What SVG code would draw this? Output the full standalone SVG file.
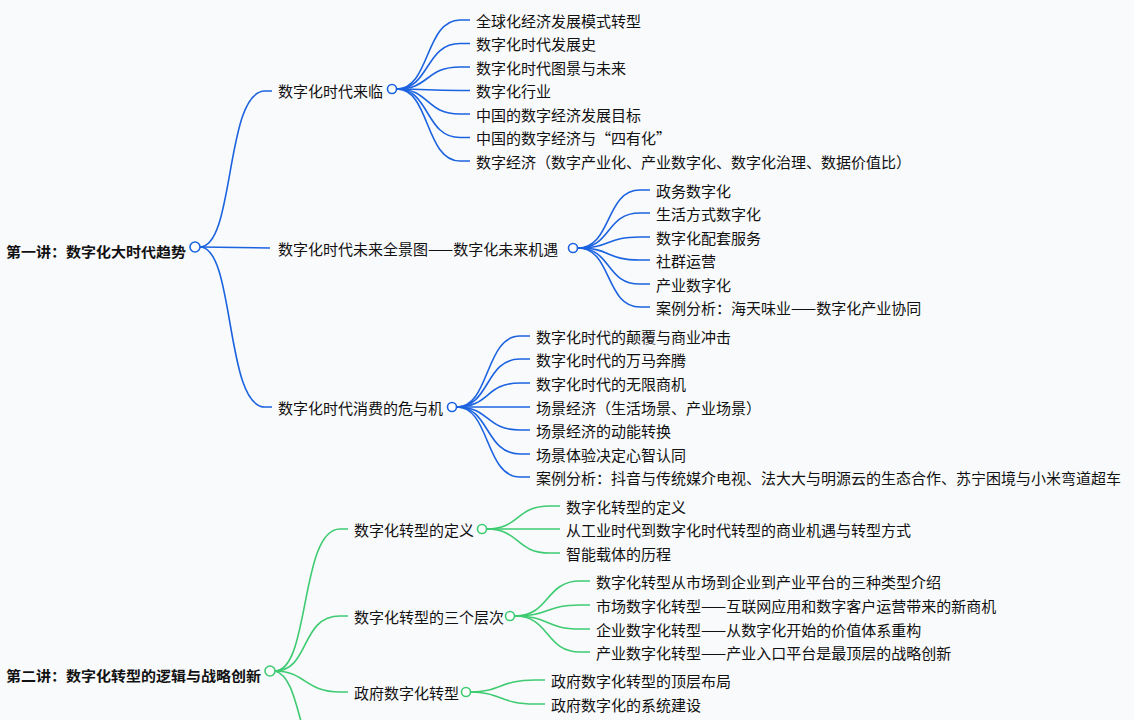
<svg xmlns="http://www.w3.org/2000/svg" width="1134" height="720" viewBox="0 0 1134 720">
<style>
text{font-family:"Noto Sans CJK SC","Noto Sans",sans-serif;font-size:15px;fill:#111;dominant-baseline:central}
.root{font-weight:bold;font-size:14px}
.b path{fill:none;stroke:#1c63e0;stroke-width:1.6}
.g path{fill:none;stroke:#3ecb72;stroke-width:1.6}
circle{fill:#fff;stroke-width:1.6}
.bc{stroke:#1c63e0}.gc{stroke:#3ecb72}
</style>
<rect width="1134" height="720" fill="#f9fafc"/>
<g id="connectors">
<g class="b">
<path d="M200,247 C235,247 225,91 265,91 L272,91"/>
<path d="M200,247 L270,248"/>
<path d="M200,247 C235,247 225,407 265,407 L272,407"/>
<path d="M397,89 C430,89 425,20 460,20 L470,20"/>
<path d="M397,89 C430,89 425,43.5 460,43.5 L470,43.5"/>
<path d="M397,89 C430,89 425,67 460,67 L470,67"/>
<path d="M397,89 C430,89 425,90.5 460,90.5 L470,90.5"/>
<path d="M397,89 C430,89 425,114 460,114 L470,114"/>
<path d="M397,89 C430,89 425,137.5 460,137.5 L470,137.5"/>
<path d="M397,89 C430,89 425,161 460,161 L470,161"/>
<path d="M578,248 C612,248 605,190 640,190 L650,190"/>
<path d="M578,248 C612,248 605,213 640,213 L650,213"/>
<path d="M578,248 C612,248 605,237 640,237 L650,237"/>
<path d="M578,248 C612,248 605,260 640,260 L650,260"/>
<path d="M578,248 C612,248 605,284 640,284 L650,284"/>
<path d="M578,248 C612,248 605,307 640,307 L650,307"/>
<path d="M457,407 C490,407 485,336 520,336 L530,336"/>
<path d="M457,407 C490,407 485,359 520,359 L530,359"/>
<path d="M457,407 C490,407 485,383 520,383 L530,383"/>
<path d="M457,407 C490,407 485,407 520,407 L530,407"/>
<path d="M457,407 C490,407 485,430 520,430 L530,430"/>
<path d="M457,407 C490,407 485,454 520,454 L530,454"/>
<path d="M457,407 C490,407 485,477 520,477 L530,477"/>
</g>
<g class="g">
<path d="M275,671 C310,671 300,529 340,529 L348,529"/>
<path d="M275,671 C310,671 300,616 340,616 L348,616"/>
<path d="M275,671 C305,671 305,692 340,692 L348,692"/>
<path d="M275,671 C290,675 295,700 302,725"/>
<path d="M487,529 C520,529 515,506 550,506 L560,506"/>
<path d="M487,529 L560,529"/>
<path d="M487,529 C520,529 515,553 550,553 L560,553"/>
<path d="M515,616 C550,616 545,581 580,581 L590,581"/>
<path d="M515,616 C550,616 545,605 580,605 L590,605"/>
<path d="M515,616 C550,616 545,629 580,629 L590,629"/>
<path d="M515,616 C550,616 545,652 580,652 L590,652"/>
<path d="M471,692 C500,692 500,680 535,680 L545,680"/>
<path d="M471,692 C500,692 500,704 535,704 L545,704"/>
</g>
</g>
<g id="root1"><text class="root" x="6" y="251" textLength="180" lengthAdjust="spacingAndGlyphs">第一讲：数字化大时代趋势</text><circle class="bc" cx="195" cy="247" r="5"/></g>
<g id="n1"><text x="278" y="90">数字化时代来临</text><circle class="bc" cx="392" cy="89" r="4.5"/></g>
<g id="n1c"><text x="476" y="20">全球化经济发展模式转型</text><text x="476" y="43.5">数字化时代发展史</text><text x="476" y="67">数字化时代图景与未来</text><text x="476" y="90.5">数字化行业</text><text x="476" y="114">中国的数字经济发展目标</text><text x="476" y="137.5">中国的数字经济与“四有化”</text><text x="476" y="161">数字经济（数字产业化、产业数字化、数字化治理、数据价值比）</text></g>
<g id="n2"><text x="278" y="248">数字化时代未来全景图——数字化未来机遇</text><circle class="bc" cx="573" cy="248" r="4.5"/></g>
<g id="n2c"><text x="656" y="190">政务数字化</text><text x="656" y="213">生活方式数字化</text><text x="656" y="237">数字化配套服务</text><text x="656" y="260">社群运营</text><text x="656" y="284">产业数字化</text><text x="656" y="307">案例分析：海天味业——数字化产业协同</text></g>
<g id="n3"><text x="278" y="407">数字化时代消费的危与机</text><circle class="bc" cx="452" cy="407" r="4.5"/></g>
<g id="n3c"><text x="536" y="336">数字化时代的颠覆与商业冲击</text><text x="536" y="359">数字化时代的万马奔腾</text><text x="536" y="383">数字化时代的无限商机</text><text x="536" y="407">场景经济（生活场景、产业场景）</text><text x="536" y="430">场景经济的动能转换</text><text x="536" y="454">场景体验决定心智认同</text><text x="536" y="477">案例分析：抖音与传统媒介电视、法大大与明源云的生态合作、苏宁困境与小米弯道超车</text></g>
<g id="root2"><text class="root" x="6" y="675" textLength="255" lengthAdjust="spacingAndGlyphs">第二讲：数字化转型的逻辑与战略创新</text><circle class="gc" cx="270" cy="671" r="5"/></g>
<g id="m1"><text x="354" y="529">数字化转型的定义</text><circle class="gc" cx="482" cy="529" r="4.5"/></g>
<g id="m1c"><text x="566" y="506">数字化转型的定义</text><text x="566" y="529">从工业时代到数字化时代转型的商业机遇与转型方式</text><text x="566" y="553">智能载体的历程</text></g>
<g id="m2"><text x="354" y="616">数字化转型的三个层次</text><circle class="gc" cx="510" cy="616" r="4.5"/></g>
<g id="m2c"><text x="596" y="581">数字化转型从市场到企业到产业平台的三种类型介绍</text><text x="596" y="605">市场数字化转型——互联网应用和数字客户运营带来的新商机</text><text x="596" y="629">企业数字化转型——从数字化开始的价值体系重构</text><text x="596" y="652">产业数字化转型——产业入口平台是最顶层的战略创新</text></g>
<g id="m3"><text x="354" y="692">政府数字化转型</text><circle class="gc" cx="466" cy="692" r="4.5"/></g>
<g id="m3c"><text x="551" y="680">政府数字化转型的顶层布局</text><text x="551" y="704">政府数字化的系统建设</text></g>
</svg>
